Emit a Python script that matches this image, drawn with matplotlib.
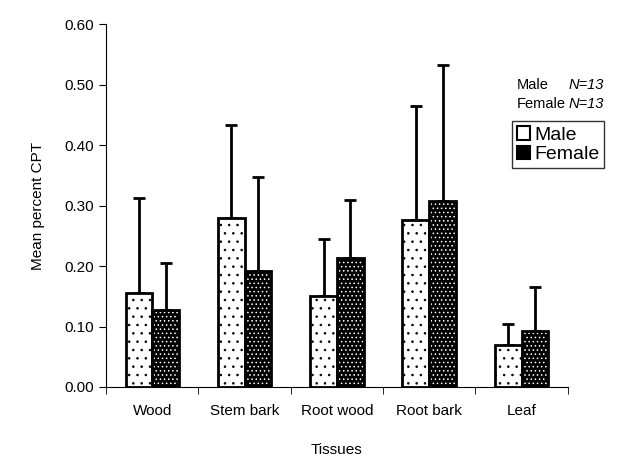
import numpy as np
import matplotlib.pyplot as plt
from matplotlib.patches import Patch

plt.rcParams['font.family'] = ['Liberation Sans', 'DejaVu Sans']
plt.rcParams['hatch.linewidth'] = 0.6

tissues = ["Wood", "Stem bark", "Root wood", "Root bark", "Leaf"]
male = [0.155, 0.280, 0.150, 0.277, 0.070]
female = [0.128, 0.192, 0.213, 0.308, 0.092]
male_err = [0.158, 0.153, 0.095, 0.188, 0.035]
female_err = [0.077, 0.155, 0.097, 0.225, 0.073]

fig = plt.figure(figsize=(6.28, 4.54), dpi=100)
ax = fig.add_axes([0.169, 0.1476, 0.735, 0.799])

x = np.arange(len(tissues))
w = 0.29

ax.errorbar(x - w / 2, male, yerr=[np.zeros(5), male_err], fmt='none',
            ecolor='black', elinewidth=2, capsize=4, capthick=2, zorder=1)
ax.errorbar(x + w / 2, female, yerr=[np.zeros(5), female_err], fmt='none',
            ecolor='black', elinewidth=2, capsize=4, capthick=2, zorder=1)

# male: white with sparse black dots, female: black with white dots
ax.bar(x - w / 2, male, w, color='white', edgecolor='black', hatch='..',
       linewidth=0, zorder=2)
ax.bar(x - w / 2, male, w, fill=False, edgecolor='black', linewidth=2, zorder=3)
ax.bar(x + w / 2, female, w, color='black', edgecolor='white', hatch='....',
       linewidth=0, zorder=2)
ax.bar(x + w / 2, female, w, fill=False, edgecolor='black', linewidth=2, zorder=3)

ax.set_xlim(-0.5, 4.5)
ax.set_ylim(0, 0.6)
ax.set_yticks(np.arange(0, 0.61, 0.1))
ax.set_yticklabels([f"{v:.2f}" for v in np.arange(0, 0.61, 0.1)], fontsize=11)
ax.set_xticks(x)
ax.set_xticklabels(tissues, fontsize=11)
ax.set_xticks(np.arange(-0.5, 5, 1), minor=True)
ax.tick_params(axis='x', which='major', length=0, pad=12)
ax.tick_params(axis='x', which='minor', length=5, direction='out')
ax.tick_params(axis='y', length=5, direction='out')
for s in ['top', 'right']:
    ax.spines[s].set_visible(False)

ax.set_ylabel("Mean percent CPT", fontsize=11, labelpad=14)
ax.set_xlabel("Tissues", fontsize=11, labelpad=18)

fig.text(0.823, 0.812, "Male", fontsize=10.5, va='center')
fig.text(0.906, 0.812, "N=13", fontsize=10.5, style='italic', va='center')
fig.text(0.823, 0.77, "Female", fontsize=10.5, va='center')
fig.text(0.906, 0.77, "N=13", fontsize=10.5, style='italic', va='center')

handles = [Patch(facecolor='white', edgecolor='black', linewidth=1.5),
           Patch(facecolor='black', edgecolor='black', linewidth=1.5)]
leg = fig.legend(handles, ["Male", "Female"], loc='upper left',
                 bbox_to_anchor=(0.815, 0.733), fontsize=14, frameon=True,
                 fancybox=False, edgecolor='black', handlelength=0.7,
                 handleheight=0.7, handletextpad=0.2, borderpad=0.25,
                 labelspacing=0.1, borderaxespad=0)
leg.get_frame().set_linewidth(1)

fig.savefig("out.png", dpi=100)
